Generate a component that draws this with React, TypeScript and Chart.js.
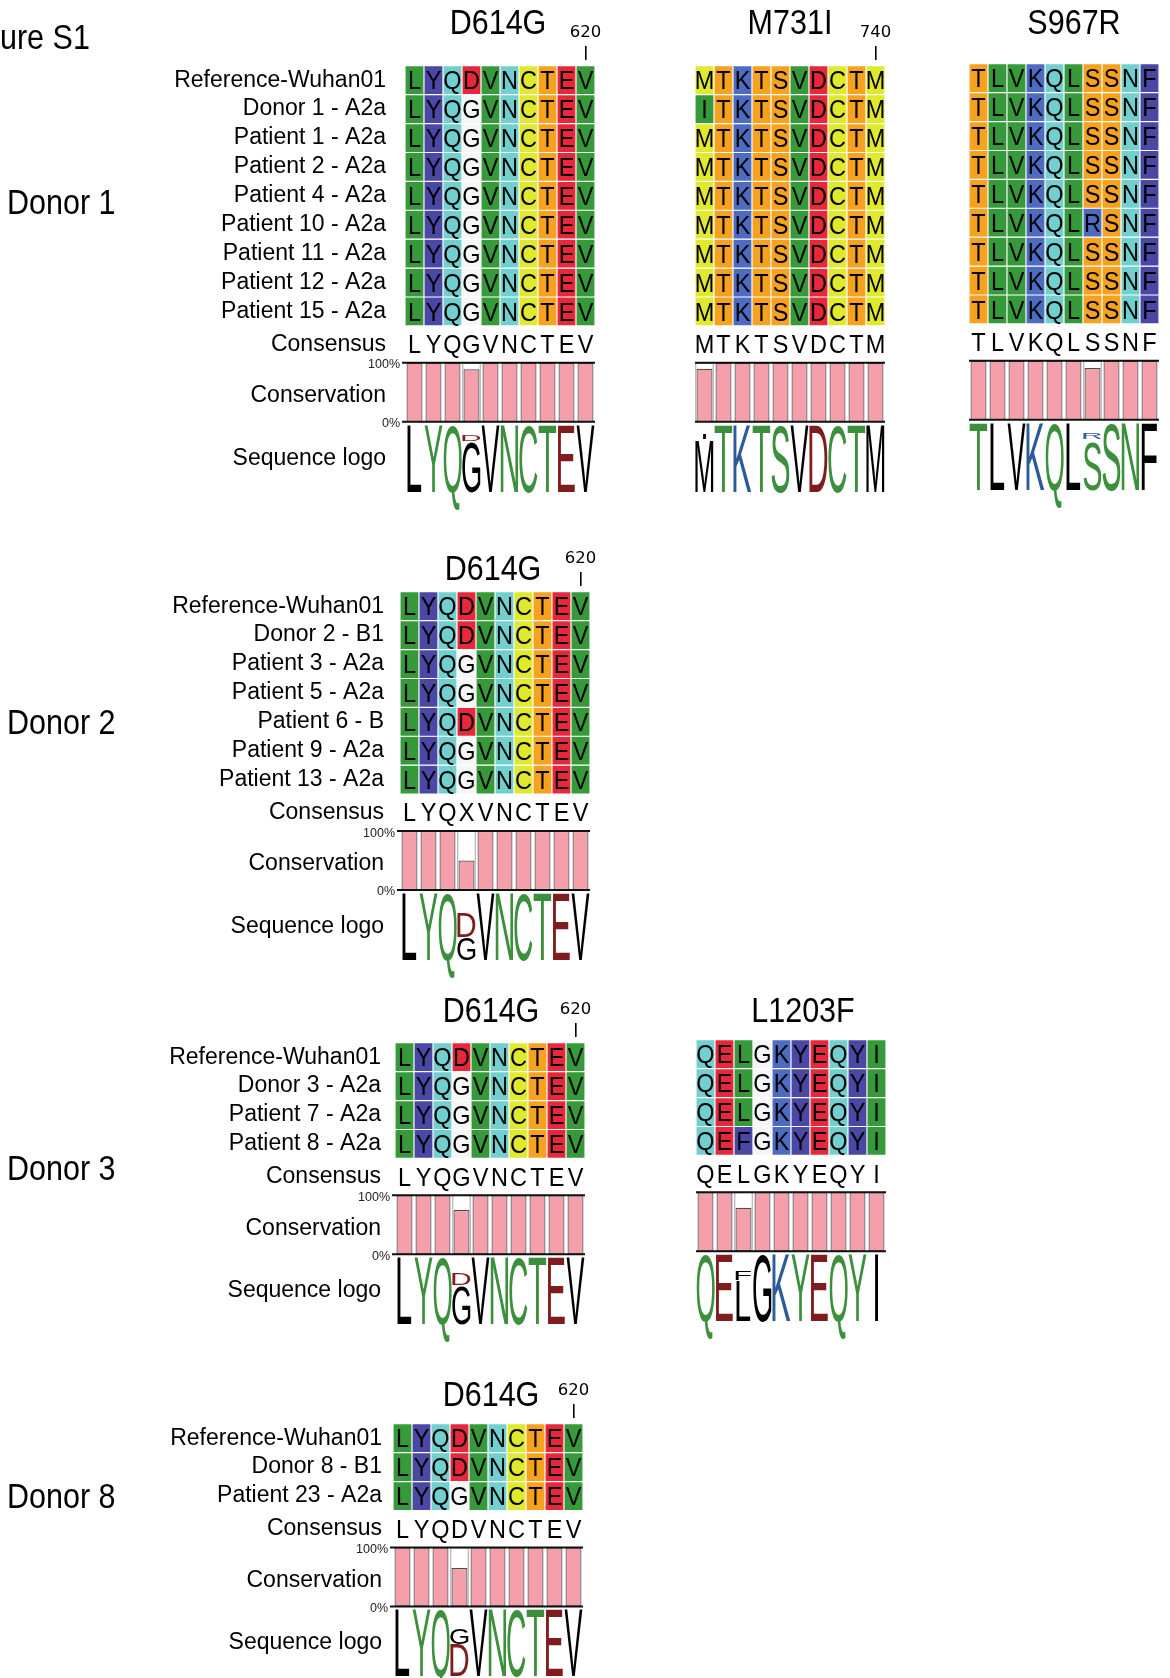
import React, { useEffect, useRef } from "react";
import { Chart, registerables } from "chart.js";

Chart.register(...registerables);

const FONT = "'Liberation Sans', Arial, Helvetica, sans-serif";
Chart.defaults.font.family = FONT;
Chart.defaults.color = "#000";

// ---------------- Data ----------------
const d614Positions = [611, 612, 613, 614, 615, 616, 617, 618, 619, 620];
const m731Positions = [731, 732, 733, 734, 735, 736, 737, 738, 739, 740];
const s967Positions = [961, 962, 963, 964, 965, 966, 967, 968, 969, 970];
const l1203Positions = [1201, 1202, 1203, 1204, 1205, 1206, 1207, 1208, 1209, 1210];

const donor1Samples = [
  "Reference-Wuhan01",
  "Donor 1 - A2a",
  "Patient 1 - A2a",
  "Patient 2 - A2a",
  "Patient 4 - A2a",
  "Patient 10 - A2a",
  "Patient 11 - A2a",
  "Patient 12 - A2a",
  "Patient 15 - A2a",
];
const donor1D614G = [
  "LYQDVNCTEV",
  "LYQGVNCTEV",
  "LYQGVNCTEV",
  "LYQGVNCTEV",
  "LYQGVNCTEV",
  "LYQGVNCTEV",
  "LYQGVNCTEV",
  "LYQGVNCTEV",
  "LYQGVNCTEV",
];
const donor1M731I = [
  "MTKTSVDCTM",
  "ITKTSVDCTM",
  "MTKTSVDCTM",
  "MTKTSVDCTM",
  "MTKTSVDCTM",
  "MTKTSVDCTM",
  "MTKTSVDCTM",
  "MTKTSVDCTM",
  "MTKTSVDCTM",
];
const donor1S967R = [
  "TLVKQLSSNF",
  "TLVKQLSSNF",
  "TLVKQLSSNF",
  "TLVKQLSSNF",
  "TLVKQLSSNF",
  "TLVKQLRSNF",
  "TLVKQLSSNF",
  "TLVKQLSSNF",
  "TLVKQLSSNF",
];
const donor1D614GConsensus = "LYQGVNCTEV";
const donor1M731IConsensus = "MTKTSVDCTM";
const donor1S967RConsensus = "TLVKQLSSNF";
const donor1D614GConservation = [100, 100, 100, 89, 100, 100, 100, 100, 100, 100];
const donor1M731IConservation = [90, 100, 100, 100, 100, 100, 100, 100, 100, 100];
const donor1S967RConservation = [100, 100, 100, 100, 100, 100, 88, 100, 100, 100];
const donor1D614GLogo: [string, number][][] = [
  [["L", 1]], [["Y", 1]], [["Q", 1]], [["G", 0.74], ["D", 0.09]], [["V", 1]],
  [["N", 1]], [["C", 1]], [["T", 1]], [["E", 1]], [["V", 1]],
];
const donor1M731ILogo: [string, number][][] = [
  [["M", 0.77], ["I", 0.08]], [["T", 1]], [["K", 1]], [["T", 1]], [["S", 1]],
  [["V", 1]], [["D", 1]], [["C", 1]], [["T", 1]], [["M", 1]],
];
const donor1S967RLogo: [string, number][][] = [
  [["T", 1]], [["L", 1]], [["V", 1]], [["K", 1]], [["Q", 1]],
  [["L", 1]], [["S", 0.74], ["R", 0.09]], [["S", 1]], [["N", 1]], [["F", 1]],
];

const donor2Samples = [
  "Reference-Wuhan01",
  "Donor 2 - B1",
  "Patient 3 - A2a",
  "Patient 5 - A2a",
  "Patient 6 - B",
  "Patient 9 - A2a",
  "Patient 13 - A2a",
];
const donor2D614G = [
  "LYQDVNCTEV",
  "LYQDVNCTEV",
  "LYQGVNCTEV",
  "LYQGVNCTEV",
  "LYQDVNCTEV",
  "LYQGVNCTEV",
  "LYQGVNCTEV",
];
const donor2D614GConsensus = "LYQXVNCTEV";
const donor2D614GConservation = [100, 100, 100, 50, 100, 100, 100, 100, 100, 100];
const donor2D614GLogo: [string, number][][] = [
  [["L", 1]], [["Y", 1]], [["Q", 1]], [["G", 0.33], ["D", 0.36]], [["V", 1]],
  [["N", 1]], [["C", 1]], [["T", 1]], [["E", 1]], [["V", 1]],
];

const donor3Samples = ["Reference-Wuhan01", "Donor 3 - A2a", "Patient 7 - A2a", "Patient 8 - A2a"];
const donor3D614G = ["LYQDVNCTEV", "LYQGVNCTEV", "LYQGVNCTEV", "LYQGVNCTEV"];
const donor3D614GConsensus = "LYQGVNCTEV";
const donor3D614GConservation = [100, 100, 100, 75, 100, 100, 100, 100, 100, 100];
const donor3D614GLogo: [string, number][][] = [
  [["L", 1]], [["Y", 1]], [["Q", 1]], [["G", 0.57], ["D", 0.17]], [["V", 1]],
  [["N", 1]], [["C", 1]], [["T", 1]], [["E", 1]], [["V", 1]],
];
const donor3L1203F = ["QELGKYEQYI", "QELGKYEQYI", "QELGKYEQYI", "QEFGKYEQYI"];
const donor3L1203FConsensus = "QELGKYEQYI";
const donor3L1203FConservation = [100, 100, 74, 100, 100, 100, 100, 100, 100, 100];
const donor3L1203FLogo: [string, number][][] = [
  [["Q", 1]], [["E", 1]], [["L", 0.6], ["F", 0.14]], [["G", 1]], [["K", 1]],
  [["Y", 1]], [["E", 1]], [["Q", 1]], [["Y", 1]], [["I", 1]],
];

const donor8Samples = ["Reference-Wuhan01", "Donor 8 - B1", "Patient 23 - A2a"];
const donor8D614G = ["LYQDVNCTEV", "LYQDVNCTEV", "LYQGVNCTEV"];
const donor8D614GConsensus = "LYQDVNCTEV";
const donor8D614GConservation = [100, 100, 100, 65, 100, 100, 100, 100, 100, 100];
const donor8D614GLogo: [string, number][][] = [
  [["L", 1]], [["Y", 1]], [["Q", 1]], [["D", 0.47], ["G", 0.24]], [["V", 1]],
  [["N", 1]], [["C", 1]], [["T", 1]], [["E", 1]], [["V", 1]],
];

// ---------------- Styles ----------------
const residueColors: Record<string, string> = {
  L: "#379a3a", V: "#379a3a", I: "#379a3a",
  Y: "#4b47a4", F: "#4b47a4",
  K: "#4d6cc1", R: "#4d6cc1",
  Q: "#72cfcf", N: "#72cfcf",
  D: "#e8283a", E: "#e8283a",
  G: "#f6f6f6",
  C: "#e0e92e", M: "#e0e92e",
  T: "#f7a21f", S: "#f7a21f",
};
const logoColors: Record<string, string> = {
  L: "#000", V: "#000", I: "#000", M: "#000", F: "#000", G: "#000",
  Y: "#3c8f3c", Q: "#3c8f3c", N: "#3c8f3c", C: "#3c8f3c", T: "#3c8f3c", S: "#3c8f3c",
  D: "#7f1c1e", E: "#7f1c1e",
  K: "#2d5a98", R: "#2d5a98",
};

// ---------------- Layout ----------------
const R = 28.9; // px per alignment row
const COLW = 19; // px per residue column
const HX = 40;
const PADR = 15;
const PADB = 40;
const CANVAS_LEFT = 10;

type PanelDef = {
  key: string;
  names?: string[];
  seqs: string[];
  consensus: string;
  conservation: number[];
  logo: [string, number][][];
  positions: number[];
  marker?: number;
  gridLeft: number;
  gridTop: number;
  labelPad?: number;
};

const panels: PanelDef[] = [
  { key: "d1a", names: donor1Samples, seqs: donor1D614G, consensus: donor1D614GConsensus, conservation: donor1D614GConservation, logo: donor1D614GLogo, positions: d614Positions, marker: 620, gridLeft: 405, gridTop: 66, labelPad: 19 },
  { key: "d1b", seqs: donor1M731I, consensus: donor1M731IConsensus, conservation: donor1M731IConservation, logo: donor1M731ILogo, positions: m731Positions, marker: 740, gridLeft: 695, gridTop: 66 },
  { key: "d1c", seqs: donor1S967R, consensus: donor1S967RConsensus, conservation: donor1S967RConservation, logo: donor1S967RLogo, positions: s967Positions, gridLeft: 969, gridTop: 64 },
  { key: "d2a", names: donor2Samples, seqs: donor2D614G, consensus: donor2D614GConsensus, conservation: donor2D614GConservation, logo: donor2D614GLogo, positions: d614Positions, marker: 620, gridLeft: 400, gridTop: 592, labelPad: 16 },
  { key: "d3a", names: donor3Samples, seqs: donor3D614G, consensus: donor3D614GConsensus, conservation: donor3D614GConservation, logo: donor3D614GLogo, positions: d614Positions, marker: 620, gridLeft: 395, gridTop: 1043, labelPad: 14 },
  { key: "d3b", seqs: donor3L1203F, consensus: donor3L1203FConsensus, conservation: donor3L1203FConservation, logo: donor3L1203FLogo, positions: l1203Positions, gridLeft: 696, gridTop: 1040 },
  { key: "d8a", names: donor8Samples, seqs: donor8D614G, consensus: donor8D614GConsensus, conservation: donor8D614GConservation, logo: donor8D614GLogo, positions: d614Positions, marker: 620, gridLeft: 393, gridTop: 1424, labelPad: 11 },
];

function yLayout(n: number) {
  return {
    min: -0.2,
    max: n + 5.9,
    consC: n + 0.64,
    consT: n + 1.28,
    consB: n + 3.32,
    logoT: n + 3.44,
    logoB: n + 5.74,
  };
}

function geometry(p: PanelDef) {
  const n = p.seqs.length;
  const L = yLayout(n);
  const hasLabels = !!p.names;
  const left = hasLabels ? CANVAS_LEFT : p.gridLeft;
  const axisW = hasLabels ? p.gridLeft - CANVAS_LEFT : 0;
  const areaH = (L.max - L.min) * R;
  const height = Math.ceil(HX + areaH + PADB);
  return {
    left,
    axisW,
    top: p.gridTop + L.min * R - HX,
    width: axisW + 10 * COLW + PADR,
    height,
    padBottom: height - HX - areaH,
  };
}

function drawCellLetter(ctx: CanvasRenderingContext2D, ch: string, cx: number, cy: number, size: number, stretch: number) {
  ctx.save();
  ctx.translate(cx, cy);
  ctx.scale(1, stretch);
  ctx.fillText(ch, 0, size * 0.358);
  ctx.restore();
}

function drawGlyph(ctx: CanvasRenderingContext2D, ch: string, cx: number, colW: number, yTop: number, yBot: number, color: string) {
  const S = 100;
  ctx.save();
  ctx.font = `${S}px ${FONT}`;
  ctx.textAlign = "left";
  ctx.textBaseline = "alphabetic";
  const m = ctx.measureText(ch);
  const bw = m.actualBoundingBoxLeft + m.actualBoundingBoxRight;
  const asc = m.actualBoundingBoxAscent;
  const w = Math.min(colW * 0.95, (bw / 60) * 18.5 * (colW / 19));
  const sx = w / bw;
  const sy = (yBot - yTop) / asc;
  ctx.translate(cx - w / 2, yBot);
  ctx.scale(sx, sy);
  ctx.fillStyle = color;
  ctx.fillText(ch, m.actualBoundingBoxLeft, 0);
  ctx.restore();
}

function buildConfig(p: PanelDef): any {
  const n = p.seqs.length;
  const L = yLayout(n);
  const g = geometry(p);
  const hasLabels = !!p.names;
  const hasMarker = p.marker != null;
  const markerIndex = hasMarker ? p.positions.indexOf(p.marker as number) : -1;
  const tickValues = hasLabels
    ? [...(p.names as string[]).map((_, i) => i + 0.5), L.consC, (L.consT + L.consB) / 2 + 0.12, (L.logoT + L.logoB) / 2]
    : [];
  const tickLabels = hasLabels ? [...(p.names as string[]), "Consensus", "Conservation", "Sequence logo"] : [];

  const cellSets = p.seqs.map((seq, r) => ({
    label: hasLabels ? (p.names as string[])[r] : `row ${r + 1}`,
    data: seq.split("").map(() => [r, r + 1]),
    backgroundColor: seq.split("").map((ch) => residueColors[ch] || "#fff"),
    borderColor: "#ffffff",
    borderWidth: 0.9,
    borderSkipped: false,
    barPercentage: 1,
    categoryPercentage: 1,
    grouped: false,
  }));
  const consSet = {
    label: "Conservation",
    data: p.conservation.map((v) => [L.consB - (v / 100) * (L.consB - L.consT), L.consB]),
    backgroundColor: "#f59fab",
    borderColor: "#4d4d4d",
    borderWidth: 1.2,
    borderSkipped: false,
    barPercentage: 0.84,
    categoryPercentage: 1,
    grouped: false,
  };
  const frameSet = {
    label: "frame",
    data: p.conservation.map((v) => (v < 100 ? [L.consT, L.consB] : null)),
    backgroundColor: "#ffffff",
    borderColor: "#555555",
    borderWidth: 1,
    borderSkipped: false,
    barPercentage: 0.96,
    categoryPercentage: 1,
    grouped: false,
  };

  const plugin = {
    id: "msa_" + p.key,
    afterDatasetsDraw(chart: any) {
      const ctx: CanvasRenderingContext2D = chart.ctx;
      const xs = chart.scales.x;
      const ys = chart.scales.y;
      const area = chart.chartArea;
      const colW = Math.abs(xs.getPixelForValue(1) - xs.getPixelForValue(0));
      ctx.save();
      // residue letters
      const fs = 23.5;
      ctx.font = `${fs}px ${FONT}`;
      ctx.fillStyle = "#000";
      ctx.textAlign = "center";
      ctx.textBaseline = "alphabetic";
      p.seqs.forEach((seq, r) => {
        const cy = ys.getPixelForValue(r + 0.5);
        seq.split("").forEach((ch, c) => {
          drawCellLetter(ctx, ch, xs.getPixelForValue(c), cy, fs, 1.08);
        });
      });
      // consensus
      const ccy = ys.getPixelForValue(L.consC);
      p.consensus.split("").forEach((ch, c) => {
        drawCellLetter(ctx, ch, xs.getPixelForValue(c), ccy, 23, 1.08);
      });
      // conservation box lines
      const t = ys.getPixelForValue(L.consT);
      const b = ys.getPixelForValue(L.consB);
      ctx.strokeStyle = "#111";
      ctx.lineWidth = 2;
      ctx.beginPath();
      ctx.moveTo(area.left - (hasLabels ? 3 : 1), t);
      ctx.lineTo(area.right, t);
      ctx.moveTo(area.left - (hasLabels ? 3 : 1), b);
      ctx.lineTo(area.right, b);
      ctx.stroke();
      if (hasLabels) {
        ctx.font = `12.5px ${FONT}`;
        ctx.textAlign = "right";
        ctx.textBaseline = "middle";
        ctx.fillStyle = "#222";
        ctx.fillText("100%", area.left - 5, t + 2);
        ctx.fillText("0%", area.left - 5, b + 2);
      }
      // sequence logo
      const lt = ys.getPixelForValue(L.logoT);
      const lb = ys.getPixelForValue(L.logoB);
      const lh = lb - lt;
      p.logo.forEach((stack, c) => {
        const cx = xs.getPixelForValue(c);
        let yb = lb;
        stack.forEach(([ch, f]) => {
          const h = f * lh;
          drawGlyph(ctx, ch, cx, colW, yb - h, yb, logoColors[ch] || "#000");
          yb -= h + 1.5;
        });
      });
      ctx.restore();
    },
  };

  return {
    type: "bar",
    data: {
      labels: p.positions.map(String),
      datasets: [...cellSets, consSet, frameSet],
    },
    options: {
      responsive: true,
      maintainAspectRatio: false,
      animation: false,
      events: [],
      layout: { padding: { left: 0, top: hasMarker ? 0 : HX, right: PADR, bottom: g.padBottom } },
      plugins: {
        legend: { display: false },
        tooltip: { enabled: false },
        title: { display: false },
      },
      scales: {
        x: {
          type: "category",
          position: "top",
          offset: true,
          display: hasMarker,
          grid: {
            display: true,
            drawOnChartArea: false,
            drawTicks: true,
            tickLength: 14,
            offset: false,
            color: "#000",
            lineWidth: 1.6,
          },
          border: { display: false },
          ticks: {
            autoSkip: false,
            maxRotation: 0,
            padding: 3,
            color: "#000",
            font: { family: "'DejaVu Sans', sans-serif", size: 16.5 },
          },
          afterBuildTicks: (scale: any) => {
            scale.ticks = scale.ticks.filter((tk: any) => tk.value === markerIndex);
          },
          afterFit: (scale: any) => {
            scale.height = hasMarker ? HX : 0;
          },
        },
        y: {
          type: "linear",
          reverse: true,
          min: L.min,
          max: L.max,
          bounds: "data",
          display: hasLabels,
          grid: { display: false, drawTicks: false },
          border: { display: false },
          ticks: {
            autoSkip: false,
            color: "#000",
            padding: p.labelPad ?? 20,
            font: { family: FONT, size: 23 },
            callback: (_v: any, i: number) => tickLabels[i],
          },
          afterBuildTicks: (scale: any) => {
            scale.ticks = tickValues.map((v) => ({ value: v }));
          },
          afterFit: (scale: any) => {
            scale.width = g.axisW;
          },
        },
      },
    },
    plugins: [plugin],
  };
}

function Panel({ p }: { p: PanelDef }) {
  const ref = useRef<HTMLCanvasElement | null>(null);
  useEffect(() => {
    if (!ref.current) return;
    const chart = new Chart(ref.current, buildConfig(p));
    return () => chart.destroy();
  }, [p]);
  const g = geometry(p);
  return (
    <div style={{ position: "absolute", left: g.left, top: g.top, width: g.width, height: g.height }}>
      <canvas ref={ref} />
    </div>
  );
}

function Label({ text, x, y, center }: { text: string; x: number; y: number; center?: boolean }) {
  return (
    <div
      style={{
        position: "absolute",
        left: x,
        top: y,
        fontFamily: FONT,
        fontSize: 30.5,
        lineHeight: "30px",
        color: "#000",
        whiteSpace: "nowrap",
        transform: center ? "translate(-50%, -50%) scaleY(1.14)" : "translateY(-50%) scaleY(1.14)",
      }}
    >
      {text}
    </div>
  );
}

export default function App() {
  return (
    <div
      style={{
        position: "absolute",
        left: 0,
        top: 0,
        width: 1170,
        height: 1678,
        background: "#fff",
        overflow: "hidden",
      }}
    >
      {panels.map((p) => (
        <Panel key={p.key} p={p} />
      ))}
      <Label text="ure S1" x={0} y={36} />
      <Label text="Donor 1" x={7} y={201} />
      <Label text="Donor 2" x={7} y={721} />
      <Label text="Donor 3" x={7} y={1167} />
      <Label text="Donor 8" x={7} y={1495} />
      <Label text="D614G" x={498} y={21} center />
      <Label text="M731I" x={790} y={21} center />
      <Label text="S967R" x={1074} y={21} center />
      <Label text="D614G" x={493} y={567} center />
      <Label text="D614G" x={491} y={1009} center />
      <Label text="L1203F" x={803} y={1009} center />
      <Label text="D614G" x={491} y={1393} center />
    </div>
  );
}
